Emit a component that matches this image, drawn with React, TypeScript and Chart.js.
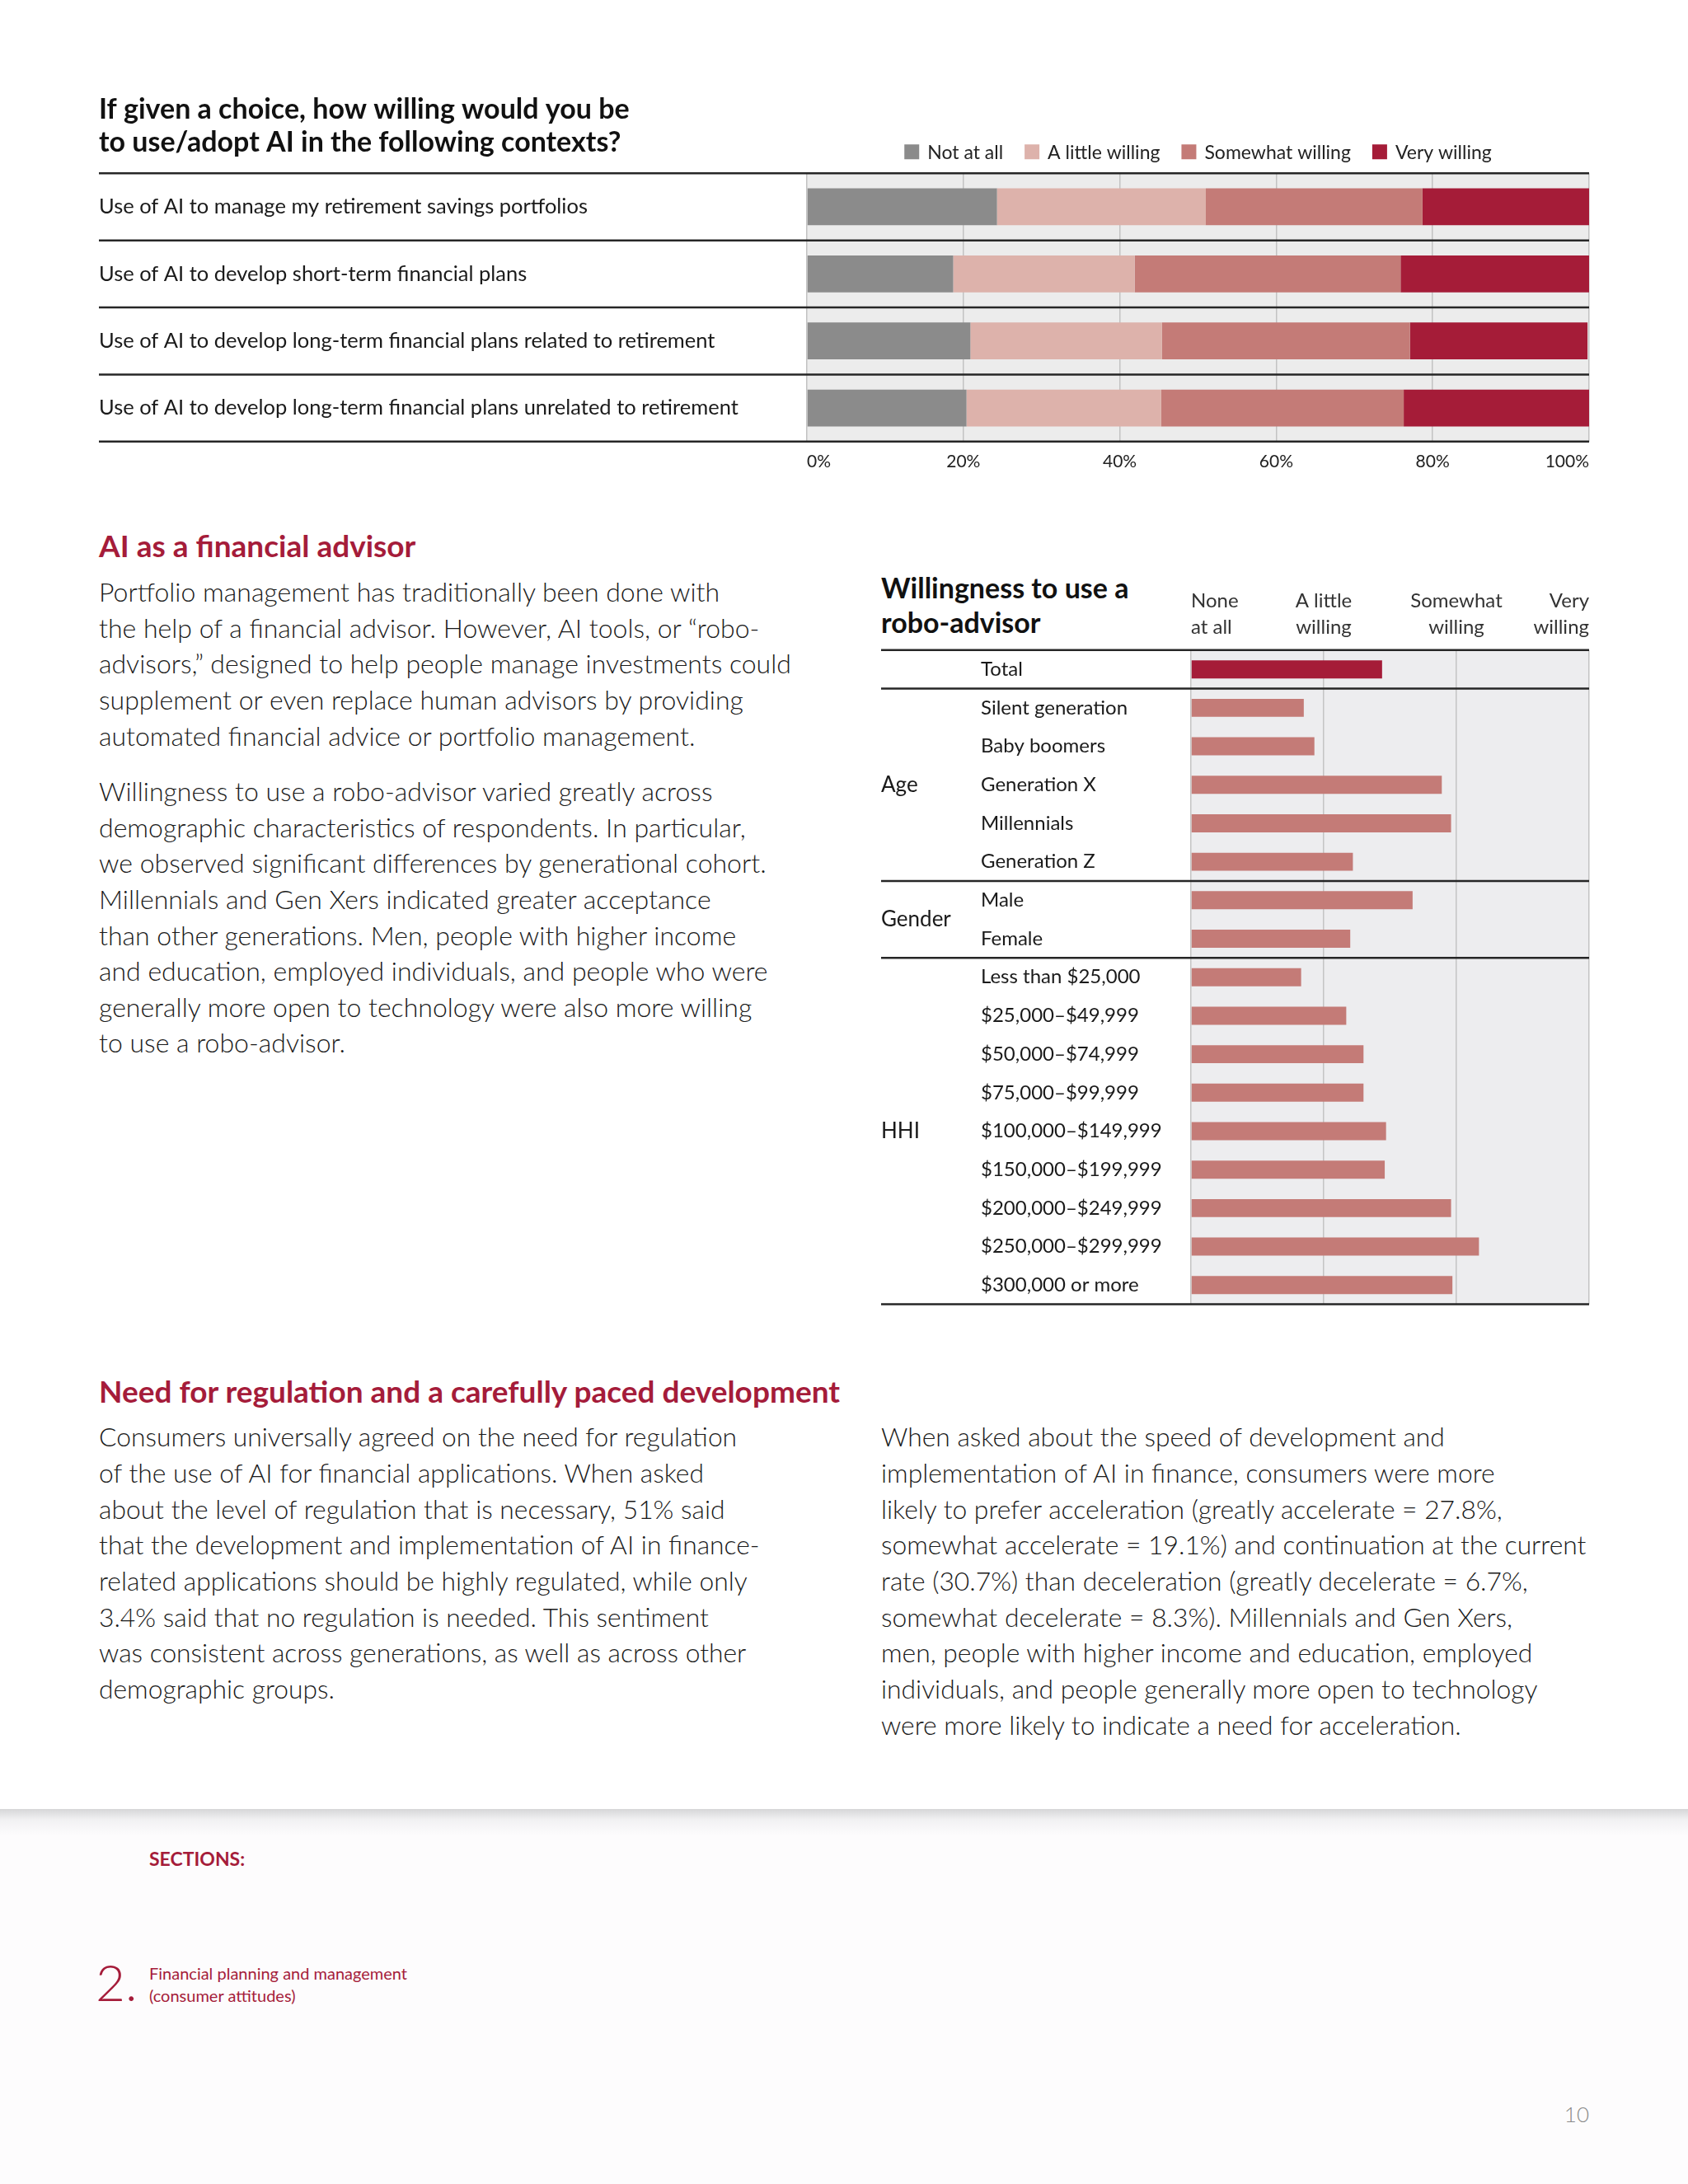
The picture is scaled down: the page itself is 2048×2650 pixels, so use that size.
import React, { useEffect, useRef } from "react";
import { Chart, registerables } from "chart.js";

Chart.register(...registerables);

const FONT = "Lato, 'Noto Sans', sans-serif";
const CRIMSON = "#a51c3a";

// ---------- Chart 1 data ----------
const contexts = [
  "Use of AI to manage my retirement savings portfolios",
  "Use of AI to develop short-term financial plans",
  "Use of AI to develop long-term financial plans related to retirement",
  "Use of AI to develop long-term financial plans unrelated to retirement",
];
const seriesNames = ["Not at all", "A little willing", "Somewhat willing", "Very willing"];
const notAtAll = [24.3, 18.7, 20.9, 20.4];
const aLittleWilling = [26.7, 23.2, 24.5, 24.9];
const somewhatWilling = [27.7, 34.0, 31.7, 31.0];
const veryWilling = [21.3, 24.1, 22.7, 23.7];
const seriesColors = ["#8b8b8b", "#ddb2ab", "#c47b77", "#a51c38"];
const pctTicks = [0, 20, 40, 60, 80, 100];
const chart1Title = ["If given a choice, how willing would you be", "to use/adopt AI in the following contexts?"];

// ---------- Chart 2 data ----------
const roboCategories = [
  "Total",
  "Silent generation",
  "Baby boomers",
  "Generation X",
  "Millennials",
  "Generation Z",
  "Male",
  "Female",
  "Less than $25,000",
  "$25,000\u2013$49,999",
  "$50,000\u2013$74,999",
  "$75,000\u2013$99,999",
  "$100,000\u2013$149,999",
  "$150,000\u2013$199,999",
  "$200,000\u2013$249,999",
  "$250,000\u2013$299,999",
  "$300,000 or more",
];
const roboValues = [2.44, 1.85, 1.93, 2.89, 2.96, 2.22, 2.67, 2.2, 1.83, 2.17, 2.3, 2.3, 2.47, 2.46, 2.96, 3.17, 2.97];
const roboScaleTicks = [1, 2, 3, 4];
const roboScaleLabels = [["None", "at all"], ["A little", "willing"], ["Somewhat", "willing"], ["Very", "willing"]];
const groupNames = ["Age", "Gender", "HHI"];
const groupFirst = [1, 6, 8];
const groupLast = [5, 7, 16];
const ruleAfter = [0, 5, 7];
const chart2Title = ["Willingness to use a", "robo-advisor"];

// ---------- Text ----------
const section1Heading = "AI as a financial advisor";
const para1 = [
  "Portfolio management has traditionally been done with",
  "the help of a financial advisor. However, AI tools, or \u201crobo-",
  "advisors,\u201d designed to help people manage investments could",
  "supplement or even replace human advisors by providing",
  "automated financial advice or portfolio management.",
];
const para2 = [
  "Willingness to use a robo-advisor varied greatly across",
  "demographic characteristics of respondents. In particular,",
  "we observed significant differences by generational cohort.",
  "Millennials and Gen Xers indicated greater acceptance",
  "than other generations. Men, people with higher income",
  "and education, employed individuals, and people who were",
  "generally more open to technology were also more willing",
  "to use a robo-advisor.",
];
const section2Heading = "Need for regulation and a carefully paced development";
const para3 = [
  "Consumers universally agreed on the need for regulation",
  "of the use of AI for financial applications. When asked",
  "about the level of regulation that is necessary, 51% said",
  "that the development and implementation of AI in finance-",
  "related applications should be highly regulated, while only",
  "3.4% said that no regulation is needed. This sentiment",
  "was consistent across generations, as well as across other",
  "demographic groups.",
];
const para4 = [
  "When asked about the speed of development and",
  "implementation of AI in finance, consumers were more",
  "likely to prefer acceleration (greatly accelerate = 27.8%,",
  "somewhat accelerate = 19.1%) and continuation at the current",
  "rate (30.7%) than deceleration (greatly decelerate = 6.7%,",
  "somewhat decelerate = 8.3%). Millennials and Gen Xers,",
  "men, people with higher income and education, employed",
  "individuals, and people generally more open to technology",
  "were more likely to indicate a need for acceleration.",
];

// ---------- helpers ----------
function TextBlock(props: {
  x: number; y: number; lh: number; size: number; lines: string[];
  weight?: number; color?: string; align?: "left" | "right";
}) {
  const { x, y, lh, size, lines, weight = 300, color = "#1a1a1a", align = "left" } = props;
  const style: React.CSSProperties = {
    position: "absolute",
    top: y - lh / 2,
    fontFamily: FONT,
    fontSize: size,
    fontWeight: weight,
    color,
    lineHeight: lh + "px",
    whiteSpace: "nowrap",
    textAlign: align,
  };
  if (align === "right") style.right = 2048 - x; else style.left = x;
  return (
    <div style={style}>
      {lines.map((l, i) => (
        <div key={i}>{l}</div>
      ))}
    </div>
  );
}

function ChartBox(props: { left: number; top: number; width: number; height: number; make: () => any }) {
  const ref = useRef<HTMLCanvasElement>(null);
  useEffect(() => {
    const chart = new Chart(ref.current as HTMLCanvasElement, props.make());
    return () => chart.destroy();
  }, []);
  return (
    <canvas
      ref={ref}
      width={props.width}
      height={props.height}
      style={{ position: "absolute", left: props.left, top: props.top, width: props.width, height: props.height }}
    />
  );
}

const areaBg = (color: string) => ({
  id: "areaBg",
  beforeDraw(chart: any) {
    const { ctx, chartArea } = chart;
    ctx.save();
    ctx.fillStyle = color;
    ctx.fillRect(chartArea.left, chartArea.top, chartArea.right - chartArea.left, chartArea.bottom - chartArea.top);
    ctx.restore();
  },
});

function makeChart1() {
  const data = [notAtAll, aLittleWilling, somewhatWilling, veryWilling];
  return {
    type: "bar",
    data: {
      labels: contexts,
      datasets: seriesNames.map((name, i) => ({
        label: name,
        data: data[i],
        backgroundColor: seriesColors[i],
        borderWidth: 0,
        barPercentage: 0.55,
        categoryPercentage: 1,
      })),
    },
    options: {
      indexAxis: "y",
      responsive: false,
      animation: false,
      layout: { padding: { left: 0, right: 32, top: 0, bottom: 4 } },
      plugins: {
        legend: { display: false },
        tooltip: { enabled: false },
        title: {
          display: true,
          text: chart1Title,
          align: "start",
          color: "#111",
          font: { family: FONT, size: 34, weight: "bold", lineHeight: 1.18 },
          padding: { top: 13, bottom: 17 },
        },
      },
      scales: {
        x: {
          stacked: true,
          min: 0,
          max: 100,
          afterBuildTicks: (s: any) => { s.ticks = pctTicks.map((v) => ({ value: v })); },
          ticks: {
            callback: (v: any) => v + "%",
            align: "inner",
            padding: 12,
            color: "#222",
            font: { family: FONT, size: 21 },
          },
          grid: { color: "#c2c2c2", lineWidth: 1.5, drawTicks: false },
          border: { display: false },
        },
        y: {
          stacked: true,
          afterFit: (s: any) => { s.width = 859; },
          ticks: { crossAlign: "far", padding: 0, color: "#1a1a1a", font: { family: FONT, size: 25.5 } },
          grid: { display: false },
          border: { display: false },
        },
      },
    },
    plugins: [
      areaBg("#ececec"),
      {
        id: "rules1",
        afterDraw(chart: any) {
          const { ctx, chartArea, scales } = chart;
          const ys = scales.y;
          const n = chart.data.labels.length;
          const pos: number[] = [chartArea.top, chartArea.bottom];
          for (let i = 0; i < n - 1; i++) pos.push((ys.getPixelForValue(i) + ys.getPixelForValue(i + 1)) / 2);
          ctx.save();
          ctx.strokeStyle = "#262626";
          ctx.lineWidth = 2.5;
          pos.forEach((y) => {
            ctx.beginPath();
            ctx.moveTo(0, y);
            ctx.lineTo(chartArea.right, y);
            ctx.stroke();
          });
          ctx.restore();
        },
      },
      {
        id: "legend1",
        afterDraw(chart: any) {
          const { ctx, chartArea } = chart;
          ctx.save();
          ctx.font = `400 23px ${FONT}`;
          const sq = 18, gapText = 10, gapItem = 26;
          const items = chart.data.datasets.map((d: any) => ({
            label: d.label, color: d.backgroundColor, w: ctx.measureText(d.label).width,
          }));
          const total = items.reduce((s: number, it: any) => s + sq + gapText + it.w, 0) + gapItem * (items.length - 1);
          let x = (chartArea.left + chartArea.right) / 2 - total / 2;
          const y = chartArea.top - 26;
          ctx.textBaseline = "middle";
          ctx.textAlign = "left";
          items.forEach((it: any) => {
            ctx.fillStyle = it.color;
            ctx.fillRect(x, y - sq / 2, sq, sq);
            x += sq + gapText;
            ctx.fillStyle = "#222";
            ctx.fillText(it.label, x, y + 1);
            x += it.w + gapItem;
          });
          ctx.restore();
        },
      },
    ],
  };
}

function makeChart2() {
  return {
    type: "bar",
    data: {
      labels: roboCategories,
      datasets: [
        {
          label: "Willingness to use a robo-advisor",
          data: roboValues,
          backgroundColor: roboValues.map((_, i) => (i === 0 ? "#a51c38" : "#c47b77")),
          borderWidth: 0,
          barPercentage: 0.47,
          categoryPercentage: 1,
          base: 1,
        },
      ],
    },
    options: {
      indexAxis: "y",
      responsive: false,
      animation: false,
      layout: { padding: { left: 121, right: 21, top: 11, bottom: 8 } },
      plugins: { legend: { display: false }, tooltip: { enabled: false }, title: { display: false } },
      scales: {
        x: {
          position: "top",
          min: 1,
          max: 4,
          afterBuildTicks: (s: any) => { s.ticks = roboScaleTicks.map((v) => ({ value: v })); },
          ticks: {
            callback: (v: any) => roboScaleLabels[roboScaleTicks.indexOf(v)],
            align: "inner",
            padding: 12,
            color: "#333",
            font: { family: FONT, size: 24, lineHeight: 1.33 },
          },
          grid: { color: "#c4c4c4", lineWidth: 1.5, drawTicks: false },
          border: { display: false },
        },
        y: {
          afterFit: (s: any) => { s.width = 255; },
          ticks: { crossAlign: "far", padding: 0, color: "#1a1a1a", font: { family: FONT, size: 24 } },
          grid: { display: false },
          border: { display: false },
        },
      },
    },
    plugins: [
      areaBg("#ededef"),
      {
        id: "rules2",
        afterDraw(chart: any) {
          const { ctx, chartArea, scales } = chart;
          const ys = scales.y;
          const pos: number[] = [chartArea.top, chartArea.bottom];
          ruleAfter.forEach((i) => pos.push((ys.getPixelForValue(i) + ys.getPixelForValue(i + 1)) / 2));
          ctx.save();
          ctx.strokeStyle = "#262626";
          ctx.lineWidth = 2.5;
          pos.forEach((y) => {
            ctx.beginPath();
            ctx.moveTo(0, y);
            ctx.lineTo(chartArea.right, y);
            ctx.stroke();
          });
          ctx.fillStyle = "#1a1a1a";
          ctx.font = `400 26px ${FONT}`;
          ctx.textBaseline = "middle";
          ctx.textAlign = "left";
          groupNames.forEach((g, k) => {
            const y = (ys.getPixelForValue(groupFirst[k]) + ys.getPixelForValue(groupLast[k])) / 2;
            ctx.fillText(g, 0, y);
          });
          ctx.restore();
        },
      },
    ],
  };
}

export default function App() {
  return (
    <div
      style={{
        position: "absolute",
        left: 0,
        top: 0,
        width: 2048,
        height: 2650,
        background: "#ffffff",
        overflow: "hidden",
        fontFamily: FONT,
      }}
    >
      {/* lower page band */}
      <div style={{ position: "absolute", left: 0, top: 2197, width: 2048, height: 453, background: "#fdfcfd" }} />
      <div
        style={{
          position: "absolute",
          left: 0,
          top: 2195,
          width: 2048,
          height: 32,
          background: "linear-gradient(#d6d6d8, rgba(236,236,238,0.7) 40%, rgba(253,252,253,0))",
        }}
      />

      <ChartBox left={120} top={100} width={1840} height={489} make={makeChart1} />

      <TextBlock x={120} y={662} lh={44} size={37} weight={700} color={CRIMSON} lines={[section1Heading]} />
      <TextBlock x={120} y={718} lh={43.6} size={32} lines={para1} />
      <TextBlock x={120} y={960} lh={43.6} size={32} lines={para2} />

      <TextBlock x={1069} y={713} lh={42} size={34} weight={700} color="#111" lines={chart2Title} />
      <ChartBox left={1069} top={690} width={880} height={907} make={makeChart2} />

      <TextBlock x={120} y={1688} lh={44} size={37} weight={700} color={CRIMSON} lines={[section2Heading]} />
      <TextBlock x={120} y={1744} lh={43.7} size={31.8} lines={para3} />
      <TextBlock x={1069} y={1744} lh={43.7} size={31.8} lines={para4} />

      <TextBlock x={181} y={2255} lh={30} size={23} weight={700} color={CRIMSON} lines={["SECTIONS:"]} />
      <TextBlock x={116} y={2404} lh={64} size={62} weight={300} color={CRIMSON} lines={["2."]} />
      <TextBlock
        x={181}
        y={2394}
        lh={27}
        size={20}
        weight={400}
        color={CRIMSON}
        lines={["Financial planning and management", "(consumer attitudes)"]}
      />
      <TextBlock x={1928} y={2565} lh={30} size={26} weight={300} color="#8a8a8a" align="right" lines={["10"]} />
    </div>
  );
}
